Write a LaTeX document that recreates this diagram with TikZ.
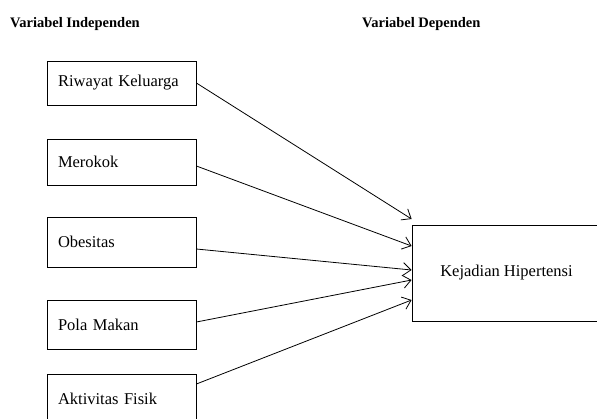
\documentclass[tikz,border=0pt]{standalone}
\usepackage{fontspec}
\setmainfont{Liberation Serif}
\usetikzlibrary{calc,arrows.meta}
\tikzset{
	varbox/.style={draw, line width=0.8pt, minimum width=149pt, text width=127pt,
		inner xsep=11pt, align=left, font=\fontsize{16.5}{19}\selectfont},
	depbox/.style={draw, line width=0.8pt, minimum width=189pt, minimum height=96pt,
		font=\fontsize{16.5}{19}\selectfont},
	head/.style={anchor=base west, inner sep=0pt, font=\fontsize{14.5}{17}\selectfont\bfseries},
	link/.style={line width=0.8pt, -{Straight Barb[length=8pt,width=13pt,line width=0.8pt]}}
}
\begin{document}
\begin{tikzpicture}[x=1pt,y=-1pt]
	\useasboundingbox (0,0) rectangle (597,418);
	\clip (0,0) rectangle (597,418);
	\node[head] (hind) at (10,27) {Variabel Independen};
	\node[head] (hdep) at (362,27) {Variabel Dependen};
	% left boxes: name/centre y/height/text
	\foreach \n/\y/\h/\txt in {1/83/44/Riwayat Keluarga,2/162/46/Merokok,3/242/50/Obesitas,
		4/324.5/49/Pola Makan,5/399/50/Aktivitas Fisik} {
		\node[varbox, minimum height=\h pt] (b\n) at (121.5,\y) {\txt};
	}
	\node[depbox] (kh) at (506.5,273) {Kejadian Hipertensi};
	% arrows: box/shift at start/shift at tip
	\foreach \n/\s/\t in {1/0/54,2/-4/27,3/-7/3,4/2.5/-7,5/15/-27} {
		\coordinate (t\n) at ([yshift=\t pt]kh.west);
		\draw[link] ([yshift=\s pt]b\n.east) -- (t\n);
	}
\end{tikzpicture}
\end{document}
